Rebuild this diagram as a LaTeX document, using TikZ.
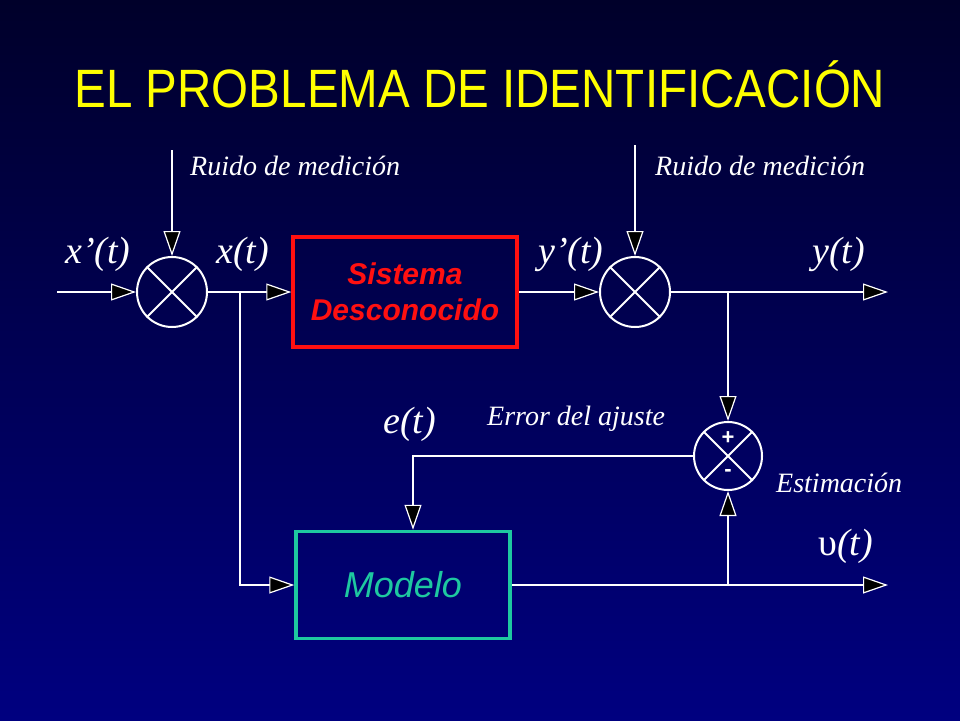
\documentclass[tikz,border=0pt]{standalone}
\usepackage{fontspec}
\usepackage{tikz}
\usetikzlibrary{arrows.meta,calc}
\setmainfont{Liberation Serif}
\newfontfamily\arialfont{Liberation Sans}
\newfontfamily\titlefont[FakeStretch=0.88]{Liberation Sans}
\definecolor{bgtop}{RGB}{0,0,42}
\definecolor{bgbot}{RGB}{0,0,128}
\definecolor{titleyellow}{RGB}{255,255,0}
\definecolor{sysred}{RGB}{255,16,16}
\definecolor{modteal}{RGB}{30,200,160}
\begin{document}
\begin{tikzpicture}[x=1pt, y=-1pt,
    block/.style={draw, line width=3.5pt, minimum width=#1, minimum height=110pt},
    mixer/.style={circle, draw=white, line width=2pt, minimum size=70pt, inner sep=0pt},
    sig/.style={draw=white, line width=2pt, -{Triangle[length=25pt, width=17pt, fill=black, line width=1.2pt]}},
    wire/.style={draw=white, line width=2pt},
    lbl/.style={text=white, font=\itshape\fontsize{38}{40}\selectfont, anchor=base west, inner sep=0pt},
    note/.style={text=white, font=\itshape\fontsize{28}{30}\selectfont, anchor=base west, inner sep=0pt}]
    % background and title
    \shade[top color=bgtop, bottom color=bgbot] (0,0) rectangle (960,720);
    \useasboundingbox (0,0) rectangle (960,720);
    \node[anchor=base, text=titleyellow, font=\titlefont\fontsize{54}{60}\selectfont] (title) at (480,107) {EL PROBLEMA DE IDENTIFICACIÓN};

    % mixers and blocks
    \node[mixer] (m1) at (172,292) {};
    \node[mixer] (m2) at (635,292) {};
    \node[mixer, minimum size=68pt] (sum) at (728,456) {};
    \foreach \m in {m1,m2,sum}
        \draw[wire] (\m.45) -- (\m.225) (\m.135) -- (\m.315);
    \node[block=224pt, draw=sysred, text=sysred, align=center, font=\arialfont\bfseries\itshape\fontsize{30}{36}\selectfont] (sis) at (405,292) {Sistema\\ Desconocido};
    \node[block=214pt, minimum height=107pt, draw=modteal, text=modteal, font=\arialfont\itshape\fontsize{36}{40}\selectfont] (mod) at (403,585) {Modelo};
    \node[text=white, font=\arialfont\bfseries\fontsize{22}{24}\selectfont] (plus) at ($(sum)+(0,-18)$) {+};
    \node[text=white, font=\arialfont\bfseries\fontsize{22}{24}\selectfont] (minus) at ($(sum)+(0,17)$) {-};

    % free ends and branch points
    \coordinate (xin) at (57,292);
    \coordinate (n1) at (172,150);
    \coordinate (n2) at (635,145);
    \coordinate (yout) at (888,292);
    \coordinate (bx) at (240,292);
    \coordinate (by) at (728,292);
    \coordinate (bm) at (728,585);
    \coordinate (vout) at (888,585);

    % connectors
    \draw[sig] (xin) -- (m1);
    \draw[sig] (n1) -- (m1);
    \draw[sig] (m1) -- (sis);
    \draw[sig] (bx) |- (mod.west);
    \draw[sig] (sis) -- (m2);
    \draw[sig] (n2) -- (m2);
    \draw[sig] (m2) -- (yout);
    \draw[sig] (by) -- (sum);
    \draw[sig] (sum.west) -| ([xshift=10pt]mod.north);
    \draw[sig] (mod) -- (vout);
    \draw[sig] (bm) -- (sum);

    % labels
    \node[note] (r1) at (190,175) {Ruido de medición};
    \node[note] (r2) at (655,175) {Ruido de medición};
    \node[lbl] (xp) at (65,263) {x’(t)};
    \node[lbl] (x) at (216,263) {x(t)};
    \node[lbl] (yp) at (538,263) {y’(t)};
    \node[lbl] (y) at (812,263) {y(t)};
    \node[lbl] (e) at (383,433) {e(t)};
    \node[note] (err) at (487,425) {Error del ajuste};
    \node[note] (est) at (776,492) {Estimación};
    \node[lbl] (v) at (818,555) {{\upshape υ}(t)};
\end{tikzpicture}
\end{document}
